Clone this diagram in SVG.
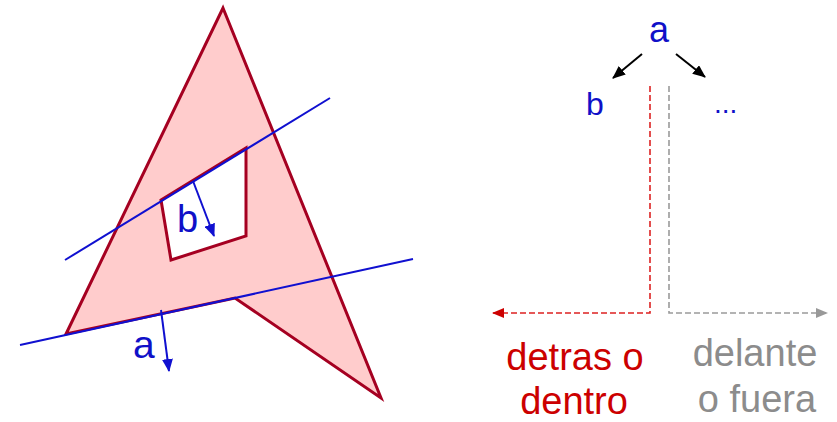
<svg xmlns="http://www.w3.org/2000/svg" width="837" height="422" viewBox="0 0 837 422">
<style>
.lbl{font-family:"Liberation Sans",Arial,sans-serif;}
.blue{fill:#1010c8;}
.bl{stroke:#1010d0;stroke-width:2;fill:none;}
.red{fill:#cc0000;}
.gray{fill:#8c8c8c;}
</style>
<defs>
<marker id="hb" markerWidth="13" markerHeight="11" refX="12" refY="5.5" orient="auto" markerUnits="userSpaceOnUse"><path d="M0,0 L13,5.5 L0,11 Z" fill="#1010d0"/></marker>
<marker id="hk" markerWidth="13" markerHeight="11" refX="12" refY="5.5" orient="auto" markerUnits="userSpaceOnUse"><path d="M0,0 L13,5.5 L0,11 Z" fill="#000"/></marker>
<marker id="hr" markerWidth="12" markerHeight="10" refX="11" refY="5" orient="auto" markerUnits="userSpaceOnUse"><path d="M0,0 L12,5 L0,10 Z" fill="#cc0000"/></marker>
<marker id="hg" markerWidth="12" markerHeight="10" refX="11" refY="5" orient="auto" markerUnits="userSpaceOnUse"><path d="M0,0 L12,5 L0,10 Z" fill="#999"/></marker>
</defs>
<g id="shape">
<path d="M223,8 L381,398 L235,298 L66,334 Z M161,200 L246,148 L246,236 L171,260 Z" fill="#ffcccc" fill-rule="evenodd" stroke="#a50021" stroke-width="3" stroke-linejoin="miter"/>
</g>
<g id="planes">
<line class="bl" x1="65" y1="260" x2="330" y2="98"/>
<line class="bl" x1="20" y1="345" x2="413" y2="259"/>
</g>
<g id="normals">
<line class="bl" x1="193" y1="181" x2="214" y2="236" marker-end="url(#hb)"/>
<line class="bl" x1="161" y1="310" x2="169" y2="371" marker-end="url(#hb)"/>
</g>
<g id="labels-left">
<text class="lbl blue" x="177" y="232" font-size="38">b</text>
<text class="lbl blue" x="133" y="358" font-size="39">a</text>
</g>
<g id="tree-a"><text class="lbl blue" x="659" y="42" font-size="36" text-anchor="middle">a</text></g>
<g id="tree-b"><text class="lbl blue" x="595" y="115" font-size="32" text-anchor="middle">b</text></g>
<g id="tree-more"><text class="lbl blue" x="714" y="113" font-size="28">...</text></g>
<g id="connectors">
<line x1="642" y1="54" x2="613" y2="78" stroke="#000" stroke-width="2" marker-end="url(#hk)"/>
<line x1="676" y1="54" x2="705" y2="77" stroke="#000" stroke-width="2" marker-end="url(#hk)"/>
<polyline points="650,86 650,313 493,313" fill="none" stroke="#dd2222" stroke-width="1.6" stroke-dasharray="6,3" marker-end="url(#hr)"/>
<polyline points="669,86 669,313 827,313" fill="none" stroke="#9a9a9a" stroke-width="1.6" stroke-dasharray="6,3" marker-end="url(#hg)"/>
</g>
<g id="back">
<text class="lbl red" font-size="38" text-anchor="middle"><tspan x="575" y="370">detras o</tspan><tspan x="574" y="414">dentro</tspan></text>
</g>
<g id="front">
<text class="lbl gray" font-size="38" text-anchor="middle"><tspan x="755" y="366">delante</tspan><tspan x="757" y="412">o fuera</tspan></text>
</g>
</svg>
